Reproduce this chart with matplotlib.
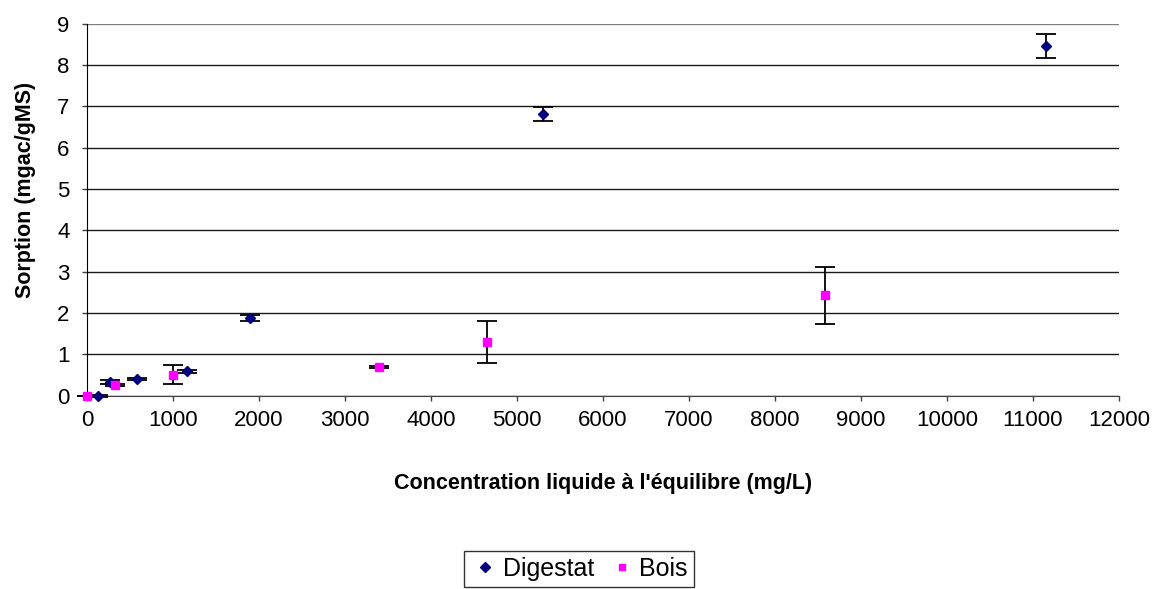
import matplotlib
matplotlib.use("Agg")
import matplotlib.pyplot as plt
from matplotlib.lines import Line2D

plt.rcParams['font.family'] = ['Liberation Sans', 'DejaVu Sans']

dig_x = [130, 265, 577, 1160, 1900, 5300, 11150]
dig_y = [0.0, 0.33, 0.40, 0.59, 1.88, 6.82, 8.46]
dig_err = [0.02, 0.04, 0.03, 0.03, 0.07, 0.17, 0.30]

bois_x = [0, 323, 995, 3400, 4650, 8580]
bois_y = [0.0, 0.26, 0.51, 0.70, 1.30, 2.43]
bois_err = [0.0, 0.03, 0.23, 0.03, 0.50, 0.69]

W, H = 1156, 589
x0, x1, yb, yt = 87, 1119, 395.7, 23.7
fig = plt.figure(figsize=(W/100, H/100), dpi=100)
ax = fig.add_axes([x0/W, 1-yb/H, (x1-x0)/W, (yb-yt)/H])

for xs, ys, es, mk, col, ms in [(dig_x, dig_y, dig_err, 'D', '#000080', 5),
                                 (bois_x, bois_y, bois_err, 's', '#FF00FF', 6)]:
    cont = ax.errorbar(xs, ys, yerr=es, fmt=mk, color=col, ms=ms,
                       ecolor='black', elinewidth=1.3, capsize=7, capthick=1.3, zorder=3)
    for art in cont.lines:
        if art is None:
            continue
        if isinstance(art, tuple):
            for a in art:
                a.set_clip_on(False)
        else:
            art.set_clip_on(False)
    for coll in cont.collections if hasattr(cont, 'collections') else []:
        coll.set_clip_on(False)

ax.set_xlim(0, 12000)
ax.set_ylim(0, 9)
ax.set_xticks(range(0, 12001, 1000))
ax.set_yticks(range(0, 10))
ax.yaxis.grid(True, color='#1a1a1a', linewidth=1)
ax.get_ygridlines()[-1].set_color('#808080')
ax.set_axisbelow(True)
for s in ['top', 'right']:
    ax.spines[s].set_visible(False)
ax.spines['left'].set_color('black')
ax.spines['bottom'].set_color('#404040')
ax.tick_params(axis='both', labelsize=16, length=3.6, color='#404040', width=1)
ax.tick_params(axis='x', pad=7)
ax.tick_params(axis='y', pad=9)

ax.set_xlabel("Concentration liquide à l'équilibre (mg/L)", fontsize=15.5, fontweight='bold')
ax.xaxis.set_label_coords(0.5, (yb-473)/(yb-yt))
ax.set_ylabel("Sorption (mgac/gMS)", fontsize=15.5, fontweight='bold')
ax.yaxis.set_label_coords((36-x0)/(x1-x0), (yb-190)/(yb-yt))

handles = [Line2D([], [], ls='none', marker='D', color='#000080', ms=5),
           Line2D([], [], ls='none', marker='s', color='#FF00FF', ms=5)]
leg = fig.legend(handles, ['Digestat', 'Bois'], loc='center', bbox_to_anchor=(579/W, 1-569/H),
                 ncol=2, fontsize=18, frameon=True, fancybox=False, edgecolor='black',
                 handletextpad=0.1, columnspacing=0.5, borderpad=0.25, handlelength=1.2)
leg.get_frame().set_linewidth(1)

fig.savefig('out.png', dpi=100)
